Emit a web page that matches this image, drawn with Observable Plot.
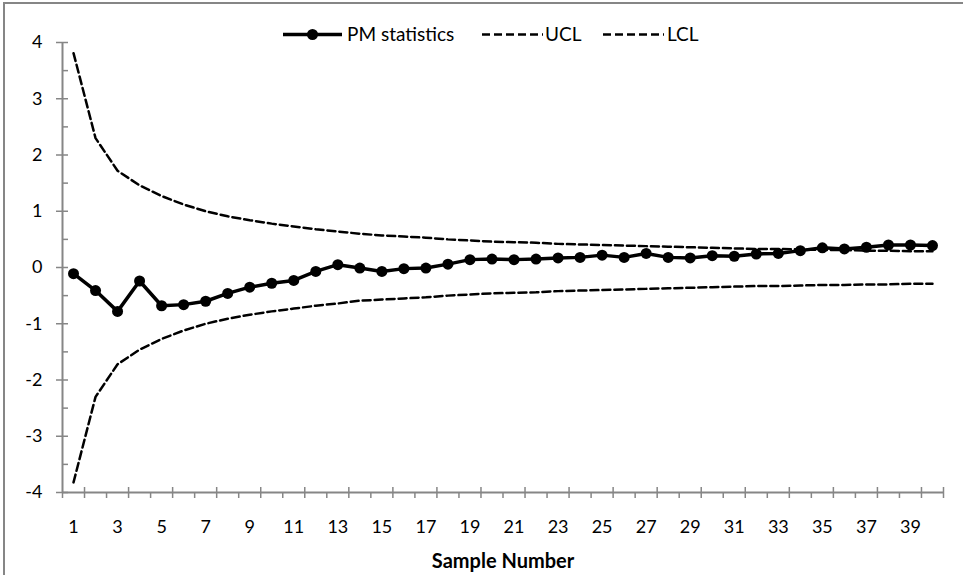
<!DOCTYPE html>
<html>
<head>
<meta charset="utf-8">
<script src="https://cdn.jsdelivr.net/npm/d3@7"></script>
<script src="https://cdn.jsdelivr.net/npm/@observablehq/plot@0.6"></script>
<style>
  html, body { margin: 0; padding: 0; background: #fff; }
  #wrap { position: relative; width: 963px; height: 575px; overflow: hidden; font-family: Lato, sans-serif; }
  #chart { position: absolute; left: 0; top: 0; }
  #legend { position: absolute; left: 0; top: 0; }
  #border { position: absolute; left: 3px; top: 2px; width: 980px; height: 600px;
            border-left: 2px solid #868686; border-top: 2px solid #868686; pointer-events: none; }
  [aria-label="x-axis label"] text { font-weight: bold; font-size: 20px; }
</style>
</head>
<body>
<div id="wrap">
  <div id="chart"></div>
  <div id="legend"></div>
  <div id="border"></div>
</div>
<script>
// Sample numbers (categories)
const samples = d3.range(1, 41);
// PM statistics
const pm = [-0.11, -0.41, -0.78, -0.24, -0.68, -0.66, -0.60, -0.46, -0.35, -0.28,
            -0.23, -0.07, 0.05, -0.01, -0.07, -0.02, -0.01, 0.06, 0.14, 0.15,
            0.14, 0.15, 0.17, 0.18, 0.22, 0.18, 0.25, 0.18, 0.17, 0.21,
            0.20, 0.24, 0.25, 0.30, 0.35, 0.33, 0.36, 0.40, 0.40, 0.39];
// Upper control limit
const ucl = [3.81, 2.30, 1.72, 1.46, 1.27, 1.12, 1.00, 0.91, 0.84, 0.78,
             0.73, 0.68, 0.64, 0.60, 0.57, 0.55, 0.53, 0.50, 0.48, 0.46,
             0.45, 0.44, 0.42, 0.41, 0.40, 0.39, 0.38, 0.37, 0.36, 0.35,
             0.34, 0.33, 0.33, 0.32, 0.31, 0.31, 0.30, 0.30, 0.29, 0.29];
// Lower control limit
const lcl = [-3.82, -2.30, -1.72, -1.46, -1.27, -1.12, -1.00, -0.91, -0.84, -0.78,
             -0.73, -0.68, -0.64, -0.59, -0.57, -0.55, -0.53, -0.50, -0.48, -0.46,
             -0.45, -0.44, -0.42, -0.41, -0.40, -0.39, -0.38, -0.37, -0.36, -0.35,
             -0.34, -0.33, -0.33, -0.32, -0.31, -0.31, -0.30, -0.30, -0.29, -0.29];
// Tick labels
const xTickLabels = d3.range(1, 41, 2);
const yTickLabels = [-4, -3, -2, -1, 0, 1, 2, 3, 4];

const table = samples.map((s, i) => ({s, pm: pm[i], ucl: ucl[i], lcl: lcl[i]}));
const axisGray = "#868686";
const dash = "8,4";

// category boundaries for tick marks
const bounds = d3.range(0, 41).map(k => k + 0.5);
const crossBounds = bounds.filter((b, k) => k % 2 === 1 || k === 40);
const yMinor = d3.range(-3.5, 4, 1);

const chart = Plot.plot({
  width: 963,
  height: 575,
  marginLeft: 62,
  marginRight: 20,
  marginTop: 42,
  marginBottom: 83,
  style: {fontFamily: "Lato, sans-serif", fontSize: "18px", color: "black", background: "white"},
  x: {domain: [0.5, 40.5]},
  y: {domain: [-4, 4]},
  marks: [
    // axis lines
    Plot.ruleX([0.5], {stroke: axisGray, strokeWidth: 2}),
    Plot.ruleY([-4], {stroke: axisGray, strokeWidth: 2}),
    // y ticks
    Plot.axisY({ticks: yTickLabels, tickSize: 6, tickFormat: () => "", stroke: axisGray, strokeWidth: 1.5, label: null}),
    Plot.axisY({ticks: yTickLabels.concat(yMinor), tickSize: -6, tickFormat: () => "", stroke: axisGray, strokeWidth: 1.5, label: null}),
    Plot.axisY({ticks: yTickLabels, tickSize: 0, tickPadding: 20, tickFormat: d => String(d), fill: "black", label: null}),
    // x ticks
    Plot.axisX({ticks: bounds, tickSize: 6, tickFormat: () => "", stroke: axisGray, strokeWidth: 1.5, label: null}),
    Plot.axisX({ticks: crossBounds, tickSize: -5, tickFormat: () => "", stroke: axisGray, strokeWidth: 1.5, label: null}),
    Plot.axisX({ticks: xTickLabels, tickSize: 0, tickPadding: 28, tickFormat: d => String(d), fill: "black",
                label: "Sample Number", labelAnchor: "center", labelOffset: 75, labelArrow: "none"}),
    // control limits
    Plot.line(table, {x: "s", y: "ucl", stroke: "black", strokeWidth: 2.5, strokeDasharray: dash}),
    Plot.line(table, {x: "s", y: "lcl", stroke: "black", strokeWidth: 2.5, strokeDasharray: dash}),
    // PM statistics
    Plot.line(table, {x: "s", y: "pm", stroke: "black", strokeWidth: 3.5}),
    Plot.dot(table, {x: "s", y: "pm", fill: "black", r: 5.5})
  ]
});
document.getElementById("chart").appendChild(chart);

// Legend
const lg = d3.select("#legend").append("svg").attr("width", 963).attr("height", 50)
  .style("font-family", "Lato, sans-serif").style("font-size", "19px");
const ly = 34.5, tb = 40.5;
lg.append("line").attr("x1", 283).attr("x2", 342).attr("y1", ly).attr("y2", ly)
  .attr("stroke", "black").attr("stroke-width", 3.5);
lg.append("circle").attr("cx", 312.5).attr("cy", ly).attr("r", 5.5).attr("fill", "black");
lg.append("text").attr("x", 347).attr("y", tb).text("PM statistics");
lg.append("line").attr("x1", 482).attr("x2", 543).attr("y1", ly).attr("y2", ly)
  .attr("stroke", "black").attr("stroke-width", 2.5).attr("stroke-dasharray", dash);
lg.append("text").attr("x", 545).attr("y", tb).text("UCL");
lg.append("line").attr("x1", 603).attr("x2", 664).attr("y1", ly).attr("y2", ly)
  .attr("stroke", "black").attr("stroke-width", 2.5).attr("stroke-dasharray", dash);
lg.append("text").attr("x", 667).attr("y", tb).text("LCL");
</script>
</body>
</html>
